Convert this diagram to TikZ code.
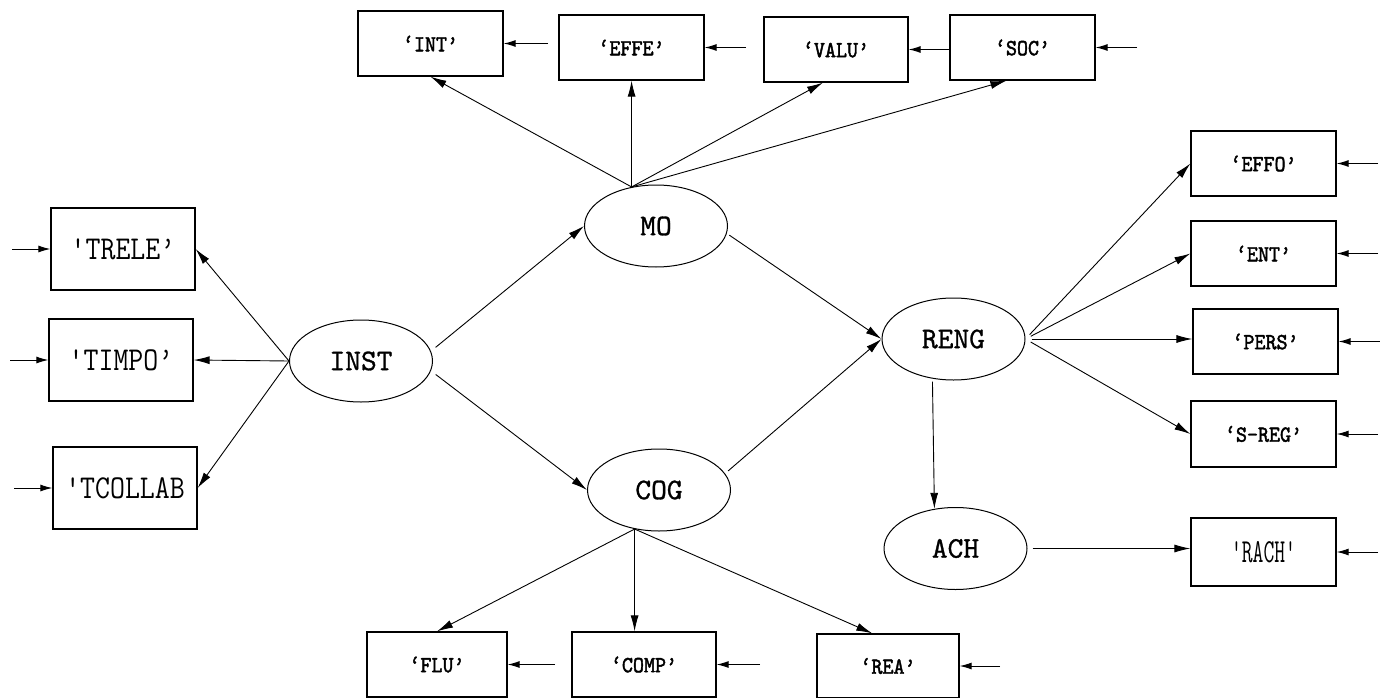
\documentclass[tikz,border=0pt]{standalone}
\usepackage{fontspec}
\usepackage{graphicx}
\usetikzlibrary{arrows.meta,calc,shapes.geometric}
\newfontfamily\sbfont{lmmono10-regular.otf}[FakeBold=2]
\newfontfamily\latfont{lmmono10-regular.otf}[FakeBold=1]
\newcommand\tallt[2]{\scalebox{1}[#1]{#2}}
\begin{document}
\begin{tikzpicture}[x=1pt,y=-1pt,
  obs/.style={draw, line width=1.3pt, rectangle, minimum width=145pt, minimum height=65pt, inner sep=0pt,
    font=\sbfont\fontsize{21}{21}\selectfont},
  obsbig/.style={obs, minimum width=144pt, minimum height=82pt, font=\ttfamily\fontsize{29}{29}\selectfont},
  lat/.style={draw, line width=1pt, ellipse, minimum width=143pt, minimum height=82pt, inner sep=0pt,
    font=\latfont\fontsize{30}{30}\selectfont},
  conn/.style={line width=0.9pt, -{Latex[length=16pt,width=8pt]}},
  err/.style={line width=1pt, -{Latex[length=12pt,width=7pt]}}]
\useasboundingbox (0,0) rectangle (1380,698);

% observed variables, top
\node[obs] (INT)  at (430.5,43.5) {\tallt{1.1}{‘INT’}};
\node[obs] (EFFE) at (631.5,47.5) {\tallt{1.1}{‘EFFE’}};
\node[obs, minimum width=144pt] (VALU) at (836,49.5) {\tallt{1.1}{‘VALU’}};
\node[obs] (SOC)  at (1022.5,47.5) {\tallt{1.1}{‘SOC’}};
% left
\node[obsbig] (TRELE)   at (123,249) {\tallt{1.15}{'TRELE’}};
\node[obsbig] (TIMPO)   at (121,360) {\tallt{1.15}{'TIMPO’}};
\node[obsbig] (TCOLLAB) at (125,488) {\tallt{1.15}{'TCOLLAB}};
% right
\node[obs] (EFFO) at (1263.5,163.5) {\tallt{1.1}{‘EFFO’}};
\node[obs] (ENT)  at (1263.5,253.5) {\tallt{1.1}{‘ENT’}};
\node[obs] (PERS) at (1265.5,341.5) {\tallt{1.1}{‘PERS’}};
\node[obs, minimum height=66pt] (SREG) at (1263.5,434) {\tallt{1.1}{‘S-REG’}};
\node[obs, minimum height=68pt, font=\ttfamily\fontsize{21}{21}\selectfont] (RACH) at (1263.5,552) {\tallt{1.6}{\symbol{"27}RACH\symbol{"27}}};
% bottom
\node[obs, minimum width=140pt] (FLU)  at (437,664.5) {\tallt{1.1}{‘FLU’}};
\node[obs, minimum width=144pt] (COMP) at (644,664.5) {\tallt{1.1}{‘COMP’}};
\node[obs, minimum width=142pt, minimum height=64pt] (REA) at (888,666) {\tallt{1.1}{‘REA’}};

% latent variables
\node[lat] (INST) at (361,361) {INST};
\node[lat] (MO)   at (656,226) {MO};
\node[lat] (COG)  at (659,490) {COG};
\node[lat] (RENG) at (953.5,339) {RENG};
\node[lat] (ACH)  at (955.5,548.5) {ACH};

% structural paths
\draw[conn, shorten <=6pt] (INST.8) -- (MO.west);
\draw[conn, shorten <=6pt] (INST.-8) -- (COG.west);
\draw[conn, shorten <=3pt] (MO.-6) -- (RENG.west);
\draw[conn, shorten <=4pt] (COG.14) -- (RENG.west);
\draw[conn, shorten <=3pt] (RENG.242) -- (ACH.118);
\draw[conn, shorten <=5pt] (ACH.east) -- (ACH.east -| RACH.west);

% INST indicators
\draw[conn] (INST.west) -- (TRELE.east);
\draw[conn] (INST.west) -- (TIMPO.east);
\draw[conn] (INST.west) -- (TCOLLAB.east);

% MO indicators
\draw[conn] (MO.122) -- (INT.south);
\draw[conn] (MO.122) -- (MO.122 |- EFFE.south);
\draw[conn] (MO.122) -- ($(VALU.south west)!0.41!(VALU.south east)$);
\draw[conn] (MO.122) -- ($(SOC.south west)!0.39!(SOC.south east)$);

% COG indicators
\draw[conn] (COG.238) -- (FLU.north);
\draw[conn] (COG.238) -- (COG.238 |- COMP.north);
\draw[conn] (COG.238) -- ($(REA.north west)!0.39!(REA.north east)$);

% RENG indicators
\draw[conn, shorten <=6pt] (RENG.east) -- (EFFO.west);
\draw[conn, shorten <=6pt] (RENG.east) -- (ENT.west);
\draw[conn, shorten <=6pt] (RENG.east) -- (RENG.east -| PERS.west);
\draw[conn, shorten <=6pt] (RENG.east) -- (SREG.west);

% error terms
\coordinate (eINT)  at (548,43.5);
\coordinate (eEFFE) at (746,47.5);
\coordinate (eSOC)  at (1137,47.5);
\coordinate (eTRELE) at (12,249);
\coordinate (eTIMPO) at (10,360);
\coordinate (eTCOLLAB) at (14,488);
\coordinate (eEFFO) at (1378,163.5);
\coordinate (eENT)  at (1378,253.5);
\coordinate (ePERS) at (1380,341.5);
\coordinate (eSREG) at (1378,434);
\coordinate (eRACH) at (1378,552);
\coordinate (eFLU)  at (555,664.5);
\coordinate (eCOMP) at (760,664.5);
\coordinate (eREA)  at (1000,666);

\draw[err] (eINT) -- (INT.east);
\draw[err] (eEFFE) -- (EFFE.east);
\draw[err] (SOC.west |- VALU.east) -- (VALU.east);
\draw[err] (eSOC) -- (SOC.east);
\draw[err] (eTRELE) -- (TRELE.west);
\draw[err] (eTIMPO) -- (TIMPO.west);
\draw[err] (eTCOLLAB) -- (TCOLLAB.west);
\draw[err] (eEFFO) -- (EFFO.east);
\draw[err] (eENT) -- (ENT.east);
\draw[err] (ePERS) -- (PERS.east);
\draw[err] (eSREG) -- (SREG.east);
\draw[err] (eRACH) -- (RACH.east);
\draw[err] (eFLU) -- (FLU.east);
\draw[err] (eCOMP) -- (COMP.east);
\draw[err] (eREA) -- (REA.east);
\end{tikzpicture}
\end{document}
